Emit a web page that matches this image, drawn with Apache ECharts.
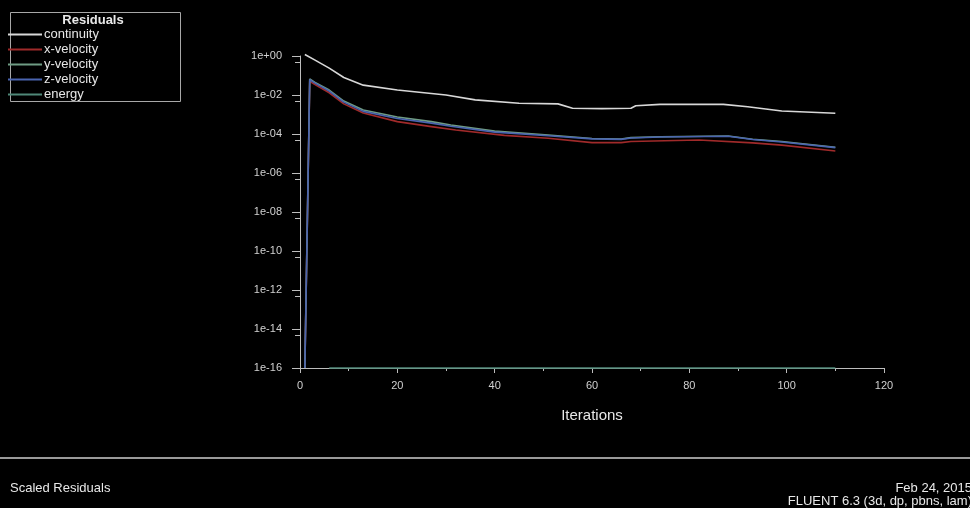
<!DOCTYPE html>
<html>
<head>
<meta charset="utf-8">
<script src="https://cdn.jsdelivr.net/npm/echarts@6/dist/echarts.min.js"></script>
<style>
html,body{margin:0;padding:0;background:#000;}
#c{width:970px;height:508px;}
</style>
</head>
<body>
<div id="c"></div>
<script>
// ---- data ----
const seriesNames = ['continuity', 'x-velocity', 'y-velocity', 'z-velocity', 'energy'];
const seriesColors = ['#d8d8d8', '#a02a2a', '#6f9c84', '#4a64b0', '#4f8878'];

const continuityIter = [1, 3, 6, 9, 13, 20, 30, 36, 45, 53, 56, 62, 68, 69, 74, 87, 92, 99, 110];
const continuityVal  = [1.2, 6.3e-1, 2.4e-1, 7.9e-2, 3.2e-2, 1.8e-2, 1.0e-2, 5.6e-3, 3.8e-3, 3.5e-3, 2.1e-3, 2.0e-3, 2.1e-3, 2.8e-3, 3.3e-3, 3.3e-3, 2.5e-3, 1.5e-3, 1.15e-3];

const xVelIter = [1, 2, 3, 6, 9, 13, 20, 27, 32, 42, 51, 60, 66, 68, 82, 93, 99, 110];
const xVelVal  = [1e-16, 5.0e-2, 3.5e-2, 1.3e-2, 3.5e-3, 1.2e-3, 4.3e-4, 2.4e-4, 1.6e-4, 8.5e-5, 6.0e-5, 3.6e-5, 3.6e-5, 4.1e-5, 4.9e-5, 3.5e-5, 2.7e-5, 1.35e-5];

const yVelIter = [1, 2, 3, 6, 9, 13, 20, 27, 31, 40, 51, 60, 66, 68, 74, 88, 93, 99, 110];
const yVelVal  = [1e-16, 6.6e-2, 4.5e-2, 1.8e-2, 4.9e-3, 1.7e-3, 7.4e-4, 4.3e-4, 2.9e-4, 1.4e-4, 8.9e-5, 5.9e-5, 5.5e-5, 6.5e-5, 7.2e-5, 7.9e-5, 5.4e-5, 4.1e-5, 2.1e-5];

const zVelIter = [1, 2, 3, 6, 9, 13, 20, 27, 31, 40, 51, 60, 66, 68, 74, 88, 93, 99, 110];
const zVelVal  = [1e-16, 6.2e-2, 4.2e-2, 1.6e-2, 4.3e-3, 1.45e-3, 6.2e-4, 3.6e-4, 2.5e-4, 1.25e-4, 8.2e-5, 5.6e-5, 5.3e-5, 6.2e-5, 7.0e-5, 7.6e-5, 5.2e-5, 3.9e-5, 2.0e-5];

const energyIter = [6, 30, 60, 90, 110];
const energyVal  = [1e-16, 1e-16, 1e-16, 1e-16, 1e-16];

const xTicks = [0, 20, 40, 60, 80, 100, 120];
const yTicks = [1, 1e-2, 1e-4, 1e-6, 1e-8, 1e-10, 1e-12, 1e-14, 1e-16];

function pairs(it, v) { return it.map((x, i) => [x, v[i]]); }
const allData = [
  pairs(continuityIter, continuityVal),
  pairs(xVelIter, xVelVal),
  pairs(yVelIter, yVelVal),
  pairs(zVelIter, zVelVal),
  pairs(energyIter, energyVal)
];

function fmtExp(v) {
  const e = Math.round(Math.log10(v));
  return '1e' + (e < 0 ? '-' : '+') + String(Math.abs(e)).padStart(2, '0');
}

const chart = echarts.init(document.getElementById('c'), null, {renderer: 'canvas'});
const FONT = 'Liberation Sans, Arial, sans-serif';
const axisGray = '#bdbdbd';

chart.setOption({
  backgroundColor: '#000',
  animation: false,
  grid: {left: 300, right: 86, top: 56, bottom: 140, containLabel: false},
  legend: {
    orient: 'vertical',
    left: 8, top: 27,
    padding: 0,
    itemGap: 0,
    itemWidth: 34,
    itemHeight: 2,
    icon: 'rect',
    selectedMode: false,
    data: seriesNames,
    textStyle: {color: '#e6e6e6', fontSize: 13, fontFamily: FONT, lineHeight: 15, padding: [0, 0, 0, -3]}
  },
  xAxis: {
    type: 'value',
    min: xTicks[0], max: xTicks[xTicks.length - 1], interval: 20,
    name: 'Iterations',
    nameLocation: 'middle',
    nameGap: 40,
    nameTextStyle: {color: '#e8e8e8', fontSize: 15, fontFamily: FONT},
    axisLine: {show: true, lineStyle: {color: axisGray, width: 1}},
    axisTick: {show: true, length: 5, inside: false, lineStyle: {color: axisGray}},
    minorTick: {show: true, splitNumber: 2, length: 3, lineStyle: {color: axisGray}},
    splitLine: {show: false},
    axisLabel: {color: '#d0d0d0', fontSize: 11, fontFamily: FONT, margin: 12}
  },
  yAxis: {
    type: 'log',
    logBase: 100,
    min: yTicks[yTicks.length - 1], max: yTicks[0],
    splitNumber: 8,
    axisLine: {show: true, onZero: false, lineStyle: {color: axisGray, width: 1}},
    axisTick: {show: true, length: 8, lineStyle: {color: axisGray}},
    minorTick: {show: true, splitNumber: 2, length: 5, lineStyle: {color: axisGray}},
    splitLine: {show: false},
    minorSplitLine: {show: false},
    axisLabel: {color: '#d0d0d0', fontSize: 11, fontFamily: FONT, margin: 18, formatter: fmtExp}
  },
  series: allData.map((d, i) => ({
    name: seriesNames[i],
    type: 'line',
    data: d,
    showSymbol: false,
    symbol: 'none',
    clip: false,
    z: [5, 2, 3, 4, 1][i],
    lineStyle: {color: seriesColors[i], width: 1.6},
    itemStyle: {color: seriesColors[i]}
  })),
  graphic: [
    {type: 'rect', left: 8, top: 10, shape: {width: 170, height: 89}, style: {fill: 'none', stroke: '#a8a8a8', lineWidth: 1}, silent: true},
    {type: 'text', x: 93, y: 20, style: {text: 'Residuals', fill: '#e8e8e8', font: 'bold 13px ' + FONT, align: 'center', verticalAlign: 'middle'}},
    {type: 'rect', left: 0, top: 457, shape: {width: 970, height: 2}, style: {fill: '#9a9a9a'}, silent: true},
    {type: 'text', x: 10, y: 488, style: {text: 'Scaled Residuals', fill: '#e8e8e8', font: '13px ' + FONT, align: 'left', verticalAlign: 'middle'}},
    {type: 'text', x: 972, y: 488, style: {text: 'Feb 24, 2015', fill: '#e8e8e8', font: '13px ' + FONT, align: 'right', verticalAlign: 'middle'}},
    {type: 'text', x: 972, y: 501, style: {text: 'FLUENT 6.3 (3d, dp, pbns, lam)', fill: '#e8e8e8', font: '13px ' + FONT, align: 'right', verticalAlign: 'middle'}}
  ]
});
</script>
</body>
</html>
